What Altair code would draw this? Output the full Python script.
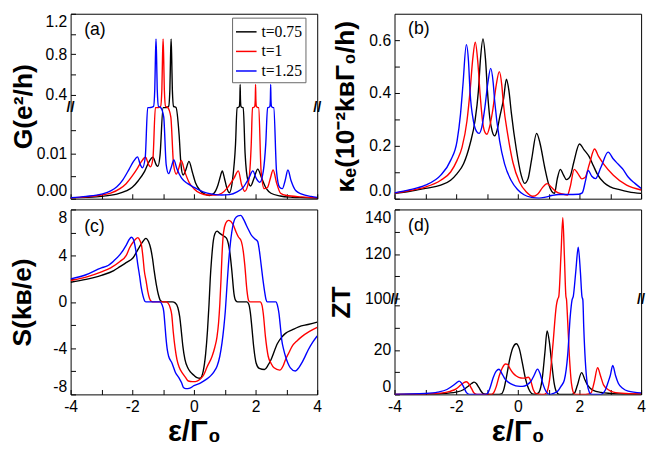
import altair as alt
import pandas as pd

FONT = "Liberation Sans"
SERIES = ["t=0.75", "t=1", "t=1.25"]
COLORS = ["#000000", "#ff0000", "#0000ff"]

# ---------------- (a) conductance G (e^2/h) ----------------
G_T075 = [(-4.0, 0.0002), (-3.5, 0.0003), (-3.0, 0.0005), (-2.5, 0.0010), (-2.2, 0.0017), (-2.0, 0.0025),
          (-1.8, 0.0040), (-1.6, 0.0060), (-1.45, 0.0082), (-1.33, 0.0091), (-1.22, 0.0074), (-1.17, 0.0071),
          (-1.1, 0.0095), (-1.0, 0.021), (-0.9, 0.045), (-0.82, 0.20), (-0.78, 0.45), (-0.76, 0.75),
          (-0.74, 0.95), (-0.72, 0.75), (-0.70, 0.45), (-0.66, 0.20), (-0.58, 0.05), (-0.48, 0.014),
          (-0.42, 0.0075), (-0.35, 0.0052), (-0.27, 0.0062), (-0.16, 0.0082), (-0.05, 0.0058), (0.05, 0.0035),
          (0.2, 0.0018), (0.35, 0.0010), (0.5, 0.0007), (0.65, 0.0012), (0.78, 0.0030), (0.85, 0.0047),
          (0.92, 0.0061), (0.99, 0.0045), (1.05, 0.0028), (1.15, 0.0013), (1.25, 0.0040), (1.35, 0.012),
          (1.40, 0.020), (1.44, 0.05), (1.47, 0.15), (1.49, 0.35), (1.50, 0.50), (1.51, 0.35), (1.53, 0.15),
          (1.56, 0.05), (1.60, 0.020), (1.66, 0.010), (1.75, 0.0040), (1.84, 0.0028), (1.95, 0.0045),
          (2.07, 0.0065), (2.2, 0.0045), (2.35, 0.0022), (2.5, 0.0012), (2.8, 0.0006), (3.2, 0.0003),
          (3.6, 0.0002), (4.0, 0.0001)]
G_T100 = [(-4.0, 0.0002), (-3.5, 0.0004), (-3.0, 0.0008), (-2.7, 0.0012), (-2.4, 0.0022), (-2.2, 0.0033),
          (-2.0, 0.0050), (-1.85, 0.0065), (-1.7, 0.0082), (-1.57, 0.0091), (-1.47, 0.0075), (-1.41, 0.0070),
          (-1.33, 0.0088), (-1.25, 0.020), (-1.15, 0.045), (-1.08, 0.20), (-1.04, 0.45), (-1.02, 0.75),
          (-1.0, 0.95), (-0.98, 0.75), (-0.96, 0.45), (-0.92, 0.20), (-0.85, 0.05), (-0.75, 0.018),
          (-0.66, 0.0075), (-0.57, 0.0054), (-0.50, 0.0065), (-0.41, 0.0084), (-0.30, 0.0060), (-0.15, 0.0035),
          (0.0, 0.0022), (0.2, 0.0012), (0.45, 0.0008), (0.7, 0.0008), (0.9, 0.0012), (1.1, 0.0025),
          (1.3, 0.0045), (1.44, 0.0061), (1.55, 0.0030), (1.65, 0.0016), (1.78, 0.0040), (1.86, 0.012),
          (1.90, 0.020), (1.94, 0.05), (1.97, 0.15), (1.99, 0.35), (2.0, 0.50), (2.01, 0.35), (2.03, 0.15),
          (2.06, 0.05), (2.10, 0.020), (2.18, 0.006), (2.28, 0.0022), (2.39, 0.0025), (2.48, 0.0045),
          (2.57, 0.0063), (2.68, 0.0035), (2.81, 0.0012), (3.0, 0.0007), (3.5, 0.0004), (4.0, 0.0002)]
G_T125 = [(-4.0, 0.0002), (-3.5, 0.0005), (-3.0, 0.0010), (-2.7, 0.0017), (-2.5, 0.0026), (-2.3, 0.0042),
          (-2.1, 0.0065), (-1.95, 0.0083), (-1.83, 0.0092), (-1.74, 0.0075), (-1.67, 0.0068), (-1.58, 0.0090),
          (-1.50, 0.020), (-1.40, 0.045), (-1.31, 0.20), (-1.27, 0.45), (-1.25, 0.75), (-1.23, 0.95),
          (-1.21, 0.75), (-1.19, 0.45), (-1.15, 0.20), (-1.08, 0.05), (-0.98, 0.018), (-0.90, 0.0075),
          (-0.82, 0.0055), (-0.74, 0.0068), (-0.65, 0.0085), (-0.55, 0.0065), (-0.4, 0.0045), (-0.2, 0.0033),
          (0.0, 0.0025), (0.3, 0.0015), (0.6, 0.0010), (0.9, 0.0008), (1.15, 0.0009), (1.4, 0.0015),
          (1.6, 0.0025), (1.78, 0.0045), (1.91, 0.0061), (2.02, 0.0045), (2.14, 0.0036), (2.25, 0.0060),
          (2.33, 0.012), (2.39, 0.020), (2.43, 0.05), (2.46, 0.15), (2.48, 0.35), (2.49, 0.50), (2.50, 0.35),
          (2.52, 0.15), (2.55, 0.05), (2.59, 0.020), (2.68, 0.006), (2.78, 0.0025), (2.87, 0.0022),
          (2.96, 0.0040), (3.05, 0.0063), (3.15, 0.0040), (3.3, 0.0018), (3.5, 0.0010), (3.8, 0.0005),
          (4.0, 0.0003)]

# ---------------- (b) electronic thermal conductance ----------------
K_T075 = [(-4.0, 0.020), (-3.5, 0.028), (-3.0, 0.039), (-2.5, 0.051), (-2.18, 0.070), (-1.97, 0.095),
          (-1.76, 0.132), (-1.55, 0.207), (-1.39, 0.294), (-1.28, 0.406), (-1.21, 0.531), (-1.13, 0.605),
          (-1.05, 0.53), (-0.98, 0.40), (-0.91, 0.307), (-0.83, 0.255), (-0.75, 0.238), (-0.67, 0.26),
          (-0.59, 0.307), (-0.46, 0.38), (-0.37, 0.452), (-0.29, 0.41), (-0.21, 0.325), (-0.05, 0.188),
          (0.11, 0.089), (0.22, 0.058), (0.33, 0.075), (0.45, 0.15), (0.61, 0.247), (0.72, 0.21),
          (0.87, 0.12), (1.0, 0.055), (1.10, 0.028), (1.19, 0.020), (1.28, 0.075), (1.38, 0.111),
          (1.48, 0.09), (1.58, 0.072), (1.70, 0.085), (1.82, 0.14), (2.0, 0.207), (2.15, 0.185),
          (2.31, 0.160), (2.45, 0.125), (2.57, 0.095), (2.8, 0.060), (3.0, 0.045), (3.3, 0.034),
          (3.6, 0.026), (4.0, 0.020)]
K_T100 = [(-4.0, 0.021), (-3.5, 0.031), (-3.0, 0.044), (-2.5, 0.070), (-2.18, 0.101), (-1.97, 0.145),
          (-1.81, 0.194), (-1.65, 0.294), (-1.55, 0.406), (-1.46, 0.531), (-1.38, 0.592), (-1.30, 0.52),
          (-1.22, 0.39), (-1.14, 0.29), (-1.06, 0.25), (-1.0, 0.244), (-0.92, 0.27), (-0.82, 0.33),
          (-0.70, 0.43), (-0.60, 0.481), (-0.52, 0.43), (-0.47, 0.363), (-0.32, 0.238), (-0.16, 0.138),
          (0.05, 0.064), (0.27, 0.026), (0.48, 0.009), (0.65, 0.018), (0.80, 0.042), (0.95, 0.057),
          (1.1, 0.042), (1.25, 0.026), (1.45, 0.018), (1.61, 0.014), (1.70, 0.045), (1.83, 0.111),
          (1.95, 0.095), (2.08, 0.075), (2.18, 0.080), (2.32, 0.13), (2.49, 0.188), (2.62, 0.16),
          (2.78, 0.132), (3.10, 0.089), (3.53, 0.051), (4.0, 0.033)]
K_T125 = [(-4.0, 0.022), (-3.5, 0.034), (-3.0, 0.051), (-2.5, 0.089), (-2.18, 0.145), (-1.97, 0.219),
          (-1.86, 0.319), (-1.78, 0.431), (-1.67, 0.583), (-1.60, 0.52), (-1.55, 0.406), (-1.44, 0.294),
          (-1.34, 0.255), (-1.26, 0.247), (-1.17, 0.27), (-1.07, 0.344), (-0.97, 0.44), (-0.88, 0.493),
          (-0.80, 0.44), (-0.75, 0.369), (-0.59, 0.219), (-0.43, 0.132), (-0.22, 0.070), (-0.01, 0.035),
          (0.2, 0.015), (0.45, 0.005), (0.69, 0.002), (0.9, 0.006), (1.1, 0.012), (1.33, 0.016),
          (1.6, 0.016), (1.98, 0.017), (2.09, 0.022), (2.20, 0.07), (2.28, 0.107), (2.40, 0.085),
          (2.52, 0.076), (2.70, 0.12), (2.93, 0.176), (3.10, 0.15), (3.26, 0.130), (3.42, 0.11),
          (3.58, 0.082), (3.8, 0.058), (4.0, 0.039)]

# ---------------- (c) thermopower S (k_B/e) ----------------
S_T075 = [(-4.0, 1.7), (-3.5, 1.95), (-3.0, 2.3), (-2.6, 2.7), (-2.4, 3.05), (-2.2, 3.4), (-1.98, 3.8),
          (-1.77, 4.75), (-1.65, 5.25), (-1.56, 5.5), (-1.47, 5.2), (-1.40, 4.6), (-1.34, 3.7), (-1.29, 2.7),
          (-1.22, 1.5), (-1.15, 0.6), (-1.08, 0.1), (-1.0, 0.0), (-0.7, 0.0), (-0.6, -0.1), (-0.52, -0.5),
          (-0.46, -1.3), (-0.41, -2.5), (-0.36, -3.8), (-0.29, -5.0), (-0.2, -5.7), (-0.1, -6.1),
          (0.0, -6.35), (0.1, -6.55), (0.2, -6.6), (0.3, -6.0), (0.38, -4.5), (0.44, -2.5), (0.49, -0.2),
          (0.53, 2.0), (0.57, 3.6), (0.63, 5.3), (0.68, 5.9), (0.75, 6.13), (0.83, 5.95), (0.91, 5.8),
          (1.0, 5.65), (1.07, 5.45), (1.12, 5.0), (1.17, 4.2), (1.23, 2.7), (1.30, 0.7), (1.36, 0.1),
          (1.42, 0.0), (1.72, 0.0), (1.78, -0.2), (1.83, -0.9), (1.88, -2.2), (1.94, -3.9), (2.02, -5.3),
          (2.12, -5.75), (2.29, -5.85), (2.40, -5.5), (2.50, -5.0), (2.71, -3.6), (2.85, -3.05),
          (2.97, -2.72), (3.2, -2.4), (3.4, -2.15), (3.7, -1.95), (4.0, -1.75)]
S_T100 = [(-4.0, 1.85), (-3.5, 2.15), (-3.0, 2.6), (-2.7, 2.95), (-2.4, 3.5), (-2.2, 4.0), (-2.09, 4.66),
          (-1.95, 5.25), (-1.82, 5.56), (-1.75, 5.3), (-1.70, 4.9), (-1.65, 3.8), (-1.61, 2.7), (-1.55, 1.8),
          (-1.50, 0.96), (-1.44, 0.3), (-1.38, 0.05), (-1.3, 0.0), (-0.9, 0.0), (-0.84, -0.1), (-0.77, -0.5),
          (-0.72, -1.1), (-0.67, -2.6), (-0.61, -4.0), (-0.55, -5.0), (-0.47, -5.7), (-0.39, -6.1),
          (-0.28, -6.5), (-0.18, -6.84), (-0.05, -6.9), (0.05, -6.9), (0.2, -6.7), (0.32, -6.3),
          (0.43, -5.6), (0.59, -4.7), (0.68, -3.9), (0.75, -3.0), (0.80, -1.8), (0.84, -0.2), (0.88, 2.0),
          (0.91, 4.0), (0.96, 6.0), (1.03, 6.8), (1.12, 7.06), (1.20, 6.95), (1.28, 6.64), (1.36, 6.1),
          (1.44, 5.64), (1.54, 5.22), (1.60, 4.4), (1.65, 3.2), (1.72, 1.0), (1.77, 0.15), (1.82, 0.0),
          (2.15, 0.0), (2.21, -0.3), (2.25, -1.0), (2.32, -3.0), (2.41, -4.7), (2.50, -5.3), (2.60, -5.7),
          (2.78, -5.9), (2.90, -5.5), (2.97, -5.0), (3.08, -4.4), (3.18, -3.86), (3.35, -3.35),
          (3.50, -3.0), (3.75, -2.55), (4.0, -2.2)]
S_T125 = [(-4.0, 2.0), (-3.5, 2.35), (-3.0, 2.95), (-2.83, 3.09), (-2.6, 3.55), (-2.4, 4.09), (-2.19, 4.94),
          (-2.1, 5.4), (-2.03, 5.59), (-1.97, 5.45), (-1.93, 5.1), (-1.87, 4.2), (-1.82, 3.23), (-1.76, 2.2),
          (-1.71, 1.25), (-1.65, 0.5), (-1.60, 0.1), (-1.55, 0.0), (-1.10, 0.0), (-1.04, -0.2), (-0.98, -0.8),
          (-0.94, -2.0), (-0.91, -3.0), (-0.86, -4.2), (-0.82, -4.7), (-0.71, -5.3), (-0.60, -6.1),
          (-0.48, -6.6), (-0.40, -7.0), (-0.34, -7.4), (-0.26, -7.5), (-0.13, -7.45), (0.0, -7.25),
          (0.22, -7.0), (0.4, -6.7), (0.54, -6.4), (0.66, -6.0), (0.75, -5.56), (0.84, -4.7), (0.91, -3.57),
          (0.97, -2.2), (1.02, -0.74), (1.07, 1.3), (1.12, 3.23), (1.18, 5.0), (1.23, 6.07), (1.33, 7.2),
          (1.43, 7.45), (1.52, 7.49), (1.62, 7.1), (1.70, 6.64), (1.78, 6.2), (1.86, 5.79), (1.98, 5.45),
          (2.07, 5.22), (2.12, 4.5), (2.18, 3.23), (2.24, 1.9), (2.29, 0.96), (2.34, 0.2), (2.38, 0.0),
          (2.66, 0.0), (2.71, -0.3), (2.76, -1.0), (2.80, -2.0), (2.85, -3.3), (2.91, -4.1), (2.97, -4.7),
          (3.05, -5.3), (3.13, -5.7), (3.29, -5.98), (3.40, -5.7), (3.50, -5.28), (3.60, -4.75),
          (3.71, -4.14), (3.85, -3.5), (4.0, -2.95)]

# ---------------- (d) figure of merit ZT ----------------
Z_T075 = [(-4.0, 0.0), (-3.0, 0.1), (-2.5, 0.3), (-2.0, 1.0), (-1.75, 2.2), (-1.6, 3.8), (-1.5, 4.9),
          (-1.42, 5.5), (-1.34, 4.8), (-1.26, 3.0), (-1.18, 1.2), (-1.10, 0.2), (-1.0, 0.0), (-0.6, 0.0),
          (-0.53, 0.2), (-0.45, 2.5), (-0.36, 8.5), (-0.26, 16.0), (-0.16, 21.0), (-0.05, 22.8),
          (0.05, 20.5), (0.15, 14.0), (0.25, 7.0), (0.35, 2.5), (0.45, 0.4), (0.55, 0.1), (0.65, 0.5),
          (0.72, 2.0), (0.80, 8.0), (0.88, 19.0), (0.95, 28.6), (1.02, 24.0), (1.10, 14.0), (1.18, 5.0),
          (1.26, 1.0), (1.35, 0.0), (1.75, 0.0), (1.84, 0.6), (1.93, 4.0), (2.07, 9.8), (2.18, 6.5),
          (2.28, 3.8), (2.45, 1.8), (2.7, 0.9), (3.0, 0.45), (3.5, 0.15), (4.0, 0.05)]
Z_T100 = [(-4.0, 0.0), (-3.0, 0.2), (-2.5, 0.6), (-2.2, 1.4), (-2.0, 2.5), (-1.85, 4.2), (-1.75, 5.3),
          (-1.67, 5.7), (-1.59, 4.8), (-1.50, 2.6), (-1.43, 0.8), (-1.36, 0.1), (-1.3, 0.0), (-0.85, 0.0),
          (-0.78, 0.8), (-0.7, 3.5), (-0.6, 8.5), (-0.5, 12.0), (-0.4, 13.7), (-0.33, 13.5), (-0.25, 11.5),
          (-0.15, 9.5), (-0.05, 8.3), (0.1, 7.4), (0.22, 7.3), (0.34, 7.7), (0.42, 6.0), (0.50, 2.2),
          (0.58, 0.5), (0.70, 0.1), (0.84, 0.0), (0.93, 0.7), (1.03, 6.5), (1.14, 22.5), (1.25, 40.0),
          (1.29, 70.0), (1.33, 101.0), (1.40, 119.5), (1.46, 136.3), (1.51, 119.5), (1.56, 101.0),
          (1.58, 70.0), (1.60, 38.0), (1.67, 18.0), (1.74, 5.0), (1.83, 0.3), (1.9, 0.0), (2.2, 0.0),
          (2.3, 0.2), (2.38, 0.8), (2.47, 5.0), (2.59, 12.0), (2.68, 8.5), (2.78, 4.3), (2.95, 2.0),
          (3.1, 1.0), (3.5, 0.4), (4.0, 0.2)]
Z_T125 = [(-4.0, 0.0), (-3.0, 0.4), (-2.6, 1.0), (-2.3, 2.2), (-2.1, 4.0), (-1.98, 5.3), (-1.90, 6.0),
          (-1.82, 5.0), (-1.74, 2.8), (-1.67, 0.9), (-1.60, 0.1), (-1.55, 0.0), (-1.05, 0.0), (-0.98, 0.5),
          (-0.9, 3.0), (-0.8, 7.5), (-0.7, 10.5), (-0.61, 11.3), (-0.52, 9.5), (-0.42, 7.0), (-0.3, 5.4),
          (-0.15, 4.3), (0.0, 3.7), (0.15, 3.6), (0.3, 4.3), (0.42, 5.8), (0.53, 8.6), (0.64, 11.4),
          (0.73, 9.0), (0.82, 4.5), (0.92, 1.2), (1.0, 0.1), (1.05, 0.0), (1.15, 0.4), (1.30, 1.5),
          (1.40, 3.6), (1.51, 6.5), (1.62, 18.0), (1.70, 35.0), (1.76, 60.0), (1.80, 101.0), (1.88, 112.0),
          (1.96, 123.0), (2.03, 112.0), (2.08, 101.0), (2.11, 60.0), (2.14, 30.0), (2.19, 15.0),
          (2.25, 5.0), (2.32, 1.0), (2.38, 0.1), (2.45, 0.0), (2.68, 0.0), (2.76, 0.5), (2.84, 2.0),
          (2.93, 5.5), (3.0, 8.5), (3.08, 13.0), (3.17, 8.5), (3.26, 5.0), (3.4, 2.8), (3.58, 1.5),
          (4.0, 0.7)]

# ---------------- scales / ticks ----------------
W, H = 252, 189
X_DOMAIN = [-4, 4]
X_TICKS = [-4, -3, -2, -1, 0, 1, 2, 3, 4]
# broken (piecewise) axes: lower segment, gap, upper segment
G_DOMAIN = [0.0, 0.02, 0.29, 1.2]
G_RANGE = [H, 96, 94, 0]
G_TICKS = [0.0, 0.005, 0.01, 0.015, 0.4, 0.6, 0.8, 1.0, 1.2]
G_BREAK = 0.15
K_DOMAIN = [0.0, 0.7]
K_TICKS = [0.0, 0.1, 0.2, 0.3, 0.4, 0.5, 0.6]
S_DOMAIN = [-8, 8]
S_TICKS = [-8, -6, -4, -2, 0, 2, 4, 6, 8]
Z_DOMAIN = [0, 42.3, 100, 140]
Z_RANGE = [H, 93, 91, 0]
Z_TICKS = [0, 10, 20, 30, 40, 100, 110, 120, 130, 140]
Z_BREAK = 70

ONE = pd.DataFrame({"k": [0]})


def long_df(*series):
    rows = []
    for name, pairs in zip(SERIES, series):
        for x, y in pairs:
            rows.append({"x": x, "y": y, "t": name})
    return pd.DataFrame(rows)


def x_axis(labels, title=None):
    return alt.Axis(values=X_TICKS, tickCount=40, tickSize=5, offset=-5, domain=False, grid=False,
                    labelPadding=4, labelExpr="datum.value % 2 == 0 ? toString(datum.value) : ''",
                    labels=labels, labelOverlap=False, labelFlush=False, title=title,
                    titlePadding=3, titleFontSize=30)


def y_axis(ticks, expr, title, title_x):
    return alt.Axis(values=ticks, tickCount=40, labelExpr=expr, tickSize=5, offset=-5, domain=False,
                    grid=False, labelPadding=4, labelOverlap=False, labelFlush=True, title=title,
                    titleX=title_x, titleBaseline="middle", titleFontSize=27)


def curves(df, yscale, yax, xax, legend=None):
    return alt.Chart(df).mark_line(clip=True, strokeWidth=1.4, interpolate="monotone").encode(
        x=alt.X("x:Q", scale=alt.Scale(domain=X_DOMAIN, nice=False, zero=False), axis=xax),
        y=alt.Y("y:Q", scale=yscale, axis=yax),
        color=alt.Color("t:N", scale=alt.Scale(domain=SERIES, range=COLORS), legend=legend),
    )


def brk(x, y):
    return alt.Chart(ONE).mark_text(text="//", fontSize=15, font=FONT, fontWeight="bold",
                                    align="center", baseline="middle", color="black").encode(
        x=alt.datum(x), y=alt.datum(y))


def tag(s, x, y):
    return alt.Chart(ONE).mark_text(text=s, fontSize=18, font=FONT, align="left",
                                    baseline="middle", color="black").encode(
        x=alt.datum(x), y=alt.datum(y))


LEGEND = alt.Legend(title=None, orient="none", legendX=165, legendY=4, symbolType="stroke",
                    symbolSize=441, symbolStrokeWidth=1.5, labelFont="Liberation Serif",
                    labelFontSize=16, rowPadding=0, padding=3, labelOffset=4, strokeColor="#666666",
                    fillColor="white", labelColor="black")

G_DF = long_df(G_T075, G_T100, G_T125)
K_DF = long_df(K_T075, K_T100, K_T125)
S_DF = long_df(S_T075, S_T100, S_T125)
Z_DF = long_df(Z_T075, Z_T100, Z_T125)

LABG = ("datum.value < 0.1 ? (round(datum.value*1000) % 10 == 0 ? format(datum.value, '.2f') : '') : "
        "(round(datum.value*10) % 4 == 0 ? format(datum.value, '.1f') : '')")
LABK = "round(datum.value*10) % 2 == 0 ? format(datum.value, '.1f') : ''"
LABS = "datum.value % 4 == 0 ? toString(datum.value) : ''"
LABZ = "datum.value % 20 == 0 && datum.value != 40 ? toString(datum.value) : ''"

a_panel = alt.layer(
    curves(G_DF, alt.Scale(domain=G_DOMAIN, range=G_RANGE, nice=False, zero=False),
           y_axis(G_TICKS, LABG, "G(e²/h)", -53), x_axis(False), legend=LEGEND),
    brk(-4, G_BREAK), brk(4, G_BREAK),
    tag("(a)", -3.56, 1.04),
).properties(width=W, height=H)

b_panel = alt.layer(
    curves(K_DF, alt.Scale(domain=K_DOMAIN, nice=False, zero=False),
           y_axis(K_TICKS, LABK, "κₑ(10⁻²kʙΓ₀/h)", -55), x_axis(False)),
    tag("(b)", -3.56, 0.64),
).properties(width=W, height=H)

c_panel = alt.layer(
    curves(S_DF, alt.Scale(domain=S_DOMAIN, nice=False, zero=False),
           y_axis(S_TICKS, LABS, "S(kʙ/e)", -54), x_axis(True, "ε/Γ₀")),
    tag("(c)", -3.56, 6.5),
).properties(width=W, height=H)

d_panel = alt.layer(
    curves(Z_DF, alt.Scale(domain=Z_DOMAIN, range=Z_RANGE, nice=False, zero=False),
           y_axis(Z_TICKS, LABZ, "ZT", -59), x_axis(True, "ε/Γ₀")),
    brk(-4, Z_BREAK), brk(4, Z_BREAK),
    tag("(d)", -3.56, 132.5),
).properties(width=W, height=H)

chart = alt.concat(
    a_panel, b_panel, c_panel, d_panel, columns=2, spacing={"row": 11, "column": 79}, bounds="flush"
).resolve_scale(
    color="independent", x="independent", y="independent"
).properties(
    padding={"left": 0, "top": 0, "right": 0, "bottom": 0}
).configure_axis(
    labelFont=FONT, labelFontSize=16, labelColor="black",
    titleFont=FONT, titleFontWeight="bold", titleColor="black",
    tickColor="black", tickWidth=1,
).configure_view(stroke="black", strokeWidth=1)

chart.save("out.html", embed_options={"renderer": "svg", "actions": False})
